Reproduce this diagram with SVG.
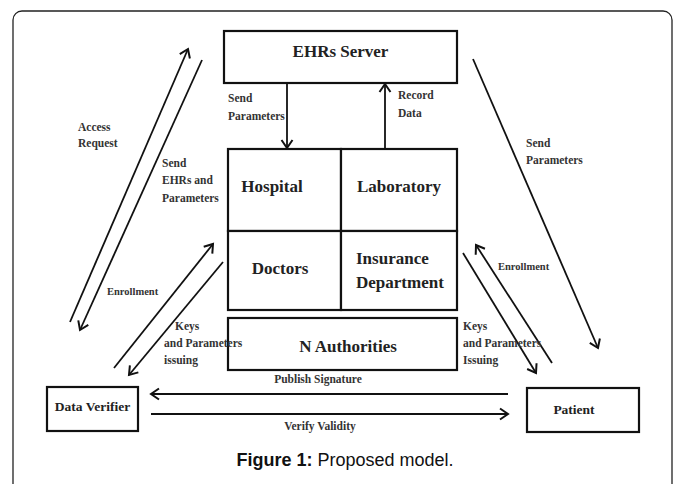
<svg xmlns="http://www.w3.org/2000/svg" width="677" height="484" viewBox="0 0 677 484">
<style>
.box{fill:#fff;stroke:#111;stroke-width:2.2}
.ln{stroke:#111;stroke-width:1.8;fill:none}
.big{font-family:"Liberation Serif",serif;font-weight:bold;font-size:17px;fill:#222}
.mid{font-family:"Liberation Serif",serif;font-weight:bold;font-size:13.5px;fill:#222}
.sm{font-family:"Liberation Serif",serif;font-weight:bold;font-size:11.5px;fill:#333}
.xs{font-family:"Liberation Serif",serif;font-weight:bold;font-size:10.5px;fill:#333}
.cap{font-family:"Liberation Sans",Arial,sans-serif;font-size:18px;fill:#111}
</style>
<defs>
<marker id="ah" markerUnits="userSpaceOnUse" markerWidth="14" markerHeight="14" refX="10" refY="6" orient="auto" overflow="visible">
<path d="M2,0.5 L10,6 L2,11.5" fill="none" stroke="#111" stroke-width="2"/>
</marker>
</defs>
<rect x="0" y="0" width="677" height="484" fill="#fff"/>
<rect x="13" y="11" width="659" height="500" rx="9" ry="9" fill="#fff" stroke="#222" stroke-width="1.3"/>

<g id="ehrs-server">
<rect class="box" x="224" y="31" width="233" height="52"/>
<text class="big" x="340.5" y="57" text-anchor="middle">EHRs Server</text>
</g>
<g id="hospital">
<rect class="box" x="228" y="149" width="113" height="82"/>
<text class="big" x="272" y="192" text-anchor="middle">Hospital</text>
</g>
<g id="laboratory">
<rect class="box" x="341" y="149" width="116" height="82"/>
<text class="big" x="399" y="192" text-anchor="middle">Laboratory</text>
</g>
<g id="doctors">
<rect class="box" x="228" y="231" width="113" height="79"/>
<text class="big" x="280" y="274" text-anchor="middle">Doctors</text>
</g>
<g id="insurance">
<rect class="box" x="341" y="231" width="116" height="79"/>
<text class="big" x="356" y="264">Insurance</text>
<text class="big" x="356" y="288">Department</text>
</g>
<g id="n-authorities">
<rect class="box" x="228" y="318" width="229" height="52"/>
<text class="big" x="348" y="352" text-anchor="middle">N Authorities</text>
</g>
<g id="data-verifier">
<rect class="box" x="47" y="387" width="91" height="44"/>
<text class="mid" x="92.5" y="411" text-anchor="middle">Data Verifier</text>
</g>
<g id="patient">
<rect class="box" x="527" y="388" width="112" height="44"/>
<text class="mid" x="574" y="414" text-anchor="middle">Patient</text>
</g>

<g id="connectors">
<line class="ln" x1="287" y1="83" x2="287" y2="148" marker-end="url(#ah)"/>
<line class="ln" x1="385" y1="149" x2="385" y2="84" marker-end="url(#ah)"/>
<line class="ln" x1="70" y1="322" x2="188" y2="49" marker-end="url(#ah)"/>
<line class="ln" x1="202" y1="60" x2="80" y2="330" marker-end="url(#ah)"/>
<line class="ln" x1="114" y1="368" x2="213" y2="244" marker-end="url(#ah)"/>
<line class="ln" x1="223" y1="262" x2="129" y2="375" marker-end="url(#ah)"/>
<line class="ln" x1="473" y1="59" x2="598" y2="348" marker-end="url(#ah)"/>
<line class="ln" x1="552" y1="363" x2="476" y2="245" marker-end="url(#ah)"/>
<line class="ln" x1="463" y1="253" x2="536" y2="373" marker-end="url(#ah)"/>
<line class="ln" x1="508" y1="394" x2="151" y2="394" marker-end="url(#ah)"/>
<line class="ln" x1="151" y1="414" x2="508" y2="414" marker-end="url(#ah)"/>
</g>

<g id="labels">
<text class="sm" x="228" y="102">Send</text>
<text class="sm" x="228" y="120">Parameters</text>
<text class="sm" x="398" y="99">Record</text>
<text class="sm" x="398" y="117">Data</text>
<text class="sm" x="78" y="131">Access</text>
<text class="sm" x="78" y="147">Request</text>
<text class="sm" x="162" y="167">Send</text>
<text class="sm" x="162" y="184">EHRs and</text>
<text class="sm" x="162" y="202">Parameters</text>
<text class="sm" x="526" y="147">Send</text>
<text class="sm" x="526" y="164">Parameters</text>
<text class="xs" x="107" y="295">Enrollment</text>
<text class="xs" x="498" y="270">Enrollment</text>
<text class="sm" x="175" y="330">Keys</text>
<text class="sm" x="164" y="347">and Parameters</text>
<text class="sm" x="164" y="364">issuing</text>
<text class="sm" x="463" y="330">Keys</text>
<text class="sm" x="463" y="347">and Parameters</text>
<text class="sm" x="463" y="364">Issuing</text>
<text class="sm" x="318" y="383" text-anchor="middle">Publish Signature</text>
<text class="sm" x="320" y="430" text-anchor="middle">Verify Validity</text>
</g>
<text class="cap" x="345" y="466" text-anchor="middle"><tspan font-weight="bold">Figure 1:</tspan> Proposed model.</text>
</svg>
